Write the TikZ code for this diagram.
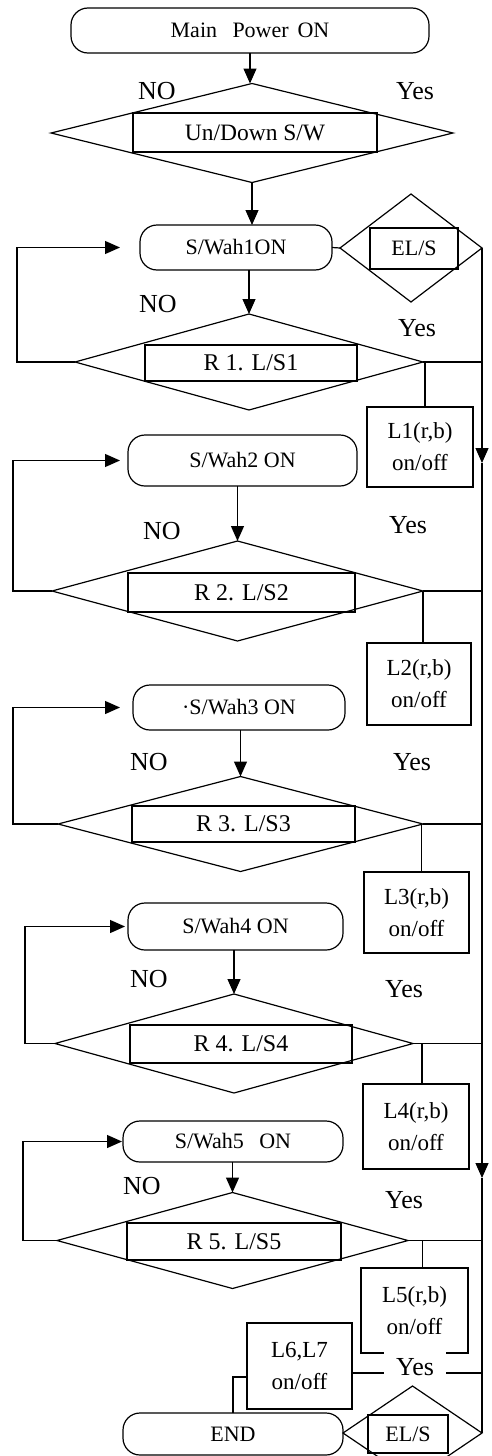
\documentclass[tikz,border=0pt]{standalone}
\usepackage{fontspec}
\setmainfont{Liberation Serif}
\usetikzlibrary{shapes.geometric,arrows.meta}
\newcommand\bxfont{\fontsize{22}{26}\selectfont}
\newcommand\rxfont{\fontsize{24}{28}\selectfont}
\newcommand\lbfont{\fontsize{26}{30}\selectfont}
\newcommand\lxfont{\fontsize{23}{32}\selectfont}
\tikzset{
  ln/.style={line width=1.2pt},
  arr/.style={ln,-{Triangle[length=15pt,width=13pt]}},
  term/.style={draw,ln,rectangle,rounded corners=17pt,inner sep=0pt,outer sep=0pt,font=\bxfont},
  dia/.style={draw,ln,diamond,inner sep=0pt,outer sep=0pt},
  inbox/.style={draw,ln,rectangle,inner sep=0pt,outer sep=0pt,font=\bxfont},
  lbox/.style={draw,ln,rectangle,inner sep=0pt,outer sep=0pt,align=center,font=\lxfont},
  lbl/.style={inner sep=0pt,font=\lbfont}
}
\begin{document}
\begin{tikzpicture}[x=1pt,y=-1pt]
\clip (0,0) rectangle (492,1456);
% top
\node[term,minimum width=358pt,minimum height=45pt] (start) at (250,30.5) {Main\hspace{.7em}Power\hspace{.4em}ON};
\node[dia,minimum width=402pt,minimum height=99pt] (d0) at (252,133) {};
\node[inbox,minimum width=244pt,minimum height=39pt,font=\fontsize{23.5}{28}\selectfont] (d0t) at (255,132.5) {Un/Down S/W};
\node[lbl] (no0) at (157,91) {NO};
\node[lbl] (yes0) at (415,91) {Yes};
\draw[arr] (start.south) -- (start.south |- d0.north);
% block 1
\node[term,minimum width=192pt,minimum height=45pt] (w1) at (236,247.5) {S/Wah1ON};
\draw[arr] (d0.south) -- (d0.south |- w1.north);
\node[dia,minimum width=142pt,minimum height=108pt] (e1) at (411,248) {};
\node[inbox,minimum width=88pt,minimum height=41pt] (e1t) at (414,248.5) {EL/S};
\draw[ln] (w1.east) -- (e1.west);
\node[dia,minimum width=348pt,minimum height=96pt] (r1) at (249,362) {};
\node[inbox,minimum width=212pt,minimum height=36pt,font=\rxfont] (r1t) at (251,363) {R 1. L/S1};
\draw[arr] (r1.north |- w1.south) -- (r1.north);
\node[lbl] (no1) at (158,304) {NO};
\node[lbl] (yes1) at (417,328) {Yes};
\coordinate (k1) at (17,362);
\draw[arr,shorten >=20pt] (r1.west) -- (k1) |- (w1.west);
\node[lbox,minimum width=106pt,minimum height=80pt] (L1) at (420,447) {L1(r,b)\\on/off};
% right trunk
\coordinate (a1) at (482,463);
\coordinate (a2) at (482,1178);
\draw[arr] (e1.east) -- (a1);
\draw[arr] (a1) -- (a2);
\draw[ln] (r1.east) -- (r1.east -| a1);
\draw[ln] ([xshift=5pt]L1.north) -- ([xshift=5pt]L1.north |- r1.east);
% block 2
\node[term,minimum width=229pt,minimum height=51pt] (w2) at (242.5,460.5) {S/Wah2 ON};
\node[dia,minimum width=371pt,minimum height=100pt] (r2) at (237.5,591) {};
\node[inbox,minimum width=227pt,minimum height=39pt,font=\rxfont] (r2t) at (241.5,592.5) {R 2. L/S2};
\draw[arr] (r2.north |- w2.south) -- (r2.north);
\node[lbl] (no2) at (162,531) {NO};
\node[lbl] (yes2) at (408,525) {Yes};
\coordinate (k2) at (13,591);
\draw[arr,shorten >=8pt] (r2.west) -- (k2) |- (w2.west);
\node[lbox,minimum width=104pt,minimum height=82pt] (L2) at (419,684) {L2(r,b)\\on/off};
\draw[ln] (r2.east) -- (r2.east -| a1);
\draw[ln] ([xshift=4pt]L2.north) -- ([xshift=4pt]L2.north |- r2.east);
% block 3
\node[term,minimum width=212pt,minimum height=45pt] (w3) at (239,707.5) {\textperiodcentered S/Wah3 ON};
\node[dia,minimum width=365pt,minimum height=95pt] (r3) at (240.5,824) {};
\node[inbox,minimum width=223pt,minimum height=36pt,font=\rxfont] (r3t) at (243.5,824) {R 3. L/S3};
\draw[arr] (r3.north |- w3.south) -- (r3.north);
\node[lbl] (no3) at (149,762) {NO};
\node[lbl] (yes3) at (412,762) {Yes};
\coordinate (k3) at (13,824);
\draw[arr,shorten >=13pt] (r3.west) -- (k3) |- (w3.west);
\node[lbox,minimum width=105pt,minimum height=81pt] (L3) at (416.5,912.5) {L3(r,b)\\on/off};
\draw[ln] (r3.east) -- (r3.east -| a1);
\draw[ln] ([xshift=5pt]L3.north) -- ([xshift=5pt]L3.north |- r3.east);
% block 4
\node[term,minimum width=215pt,minimum height=47pt] (w4) at (235.5,926.5) {S/Wah4 ON};
\node[dia,minimum width=358pt,minimum height=99pt] (r4) at (234,1043.5) {};
\node[inbox,minimum width=222pt,minimum height=38pt,font=\rxfont] (r4t) at (241,1044) {R 4. L/S4};
\draw[arr] (r4.north |- w4.south) -- (r4.north);
\node[lbl] (no4) at (149,979) {NO};
\node[lbl] (yes4) at (404,989) {Yes};
\coordinate (k4) at (25,1043.5);
\draw[arr,shorten >=3pt] (r4.west) -- (k4) |- (w4.west);
\node[lbox,minimum width=106pt,minimum height=85pt] (L4) at (416,1126.5) {L4(r,b)\\on/off};
\draw[ln] (r4.east) -- (r4.east -| a1);
\draw[ln] ([xshift=6pt]L4.north) -- ([xshift=6pt]L4.north |- r4.east);
% block 5
\node[term,minimum width=220pt,minimum height=41pt] (w5) at (233,1141.5) {S/Wah5\hspace{.7em}ON};
\node[dia,minimum width=351pt,minimum height=96pt] (r5) at (232.5,1240.5) {};
\node[inbox,minimum width=214pt,minimum height=37pt,font=\rxfont] (r5t) at (234,1241.5) {R 5. L/S5};
\draw[arr] (r5.north |- w5.south) -- (r5.north);
\node[lbl] (no5) at (142,1186) {NO};
\node[lbl] (yes5) at (404,1200) {Yes};
\coordinate (k5) at (23,1240.5);
\draw[arr,shorten >=1pt] (r5.west) -- (k5) |- (w5.west);
\node[rectangle,inner sep=0pt,outer sep=0pt,align=center,font=\lxfont,minimum width=107pt,minimum height=85pt] (L5) at (414.5,1310.5) {L5(r,b)\\on/off};
\draw[ln] (r5.east) -- (r5.east -| a1);
\draw[ln] ([xshift=8pt]L5.north) -- ([xshift=8pt]L5.north |- r5.east);
% bottom
\node[lbl,anchor=base,inner xsep=12pt] (yes6) at (415,1375) {Yes};
\draw[ln] (L5.south -| yes6.west) -- (L5.south west) -- (L5.north west) -- (L5.north east) -- (L5.south east) -- (L5.south -| yes6.east);
\node[draw,line width=2.6pt,rectangle,inner sep=0pt,outer sep=0pt,align=center,font=\lxfont,minimum width=105pt,minimum height=86pt] (L67) at (299.5,1366) {L6,L7\\on/off};
\node[term,minimum width=220pt,minimum height=42pt] (end) at (233,1434) {END};
\node[dia,minimum width=139pt,minimum height=94pt] (e2) at (412.5,1433) {};
\node[inbox,minimum width=80pt,minimum height=38pt] (e2t) at (408,1434) {EL/S};
\coordinate (yc) at (482,1373);
\draw[ln] (a2) -- (e2.east);
\draw[ln] (yc) -- (yc -| yes6.east);
\draw[ln] (yc -| yes6.west) -- (yc -| L67.east);
\draw[ln] ([yshift=-11pt]L67.west) -| (end.north);
\end{tikzpicture}
\end{document}
